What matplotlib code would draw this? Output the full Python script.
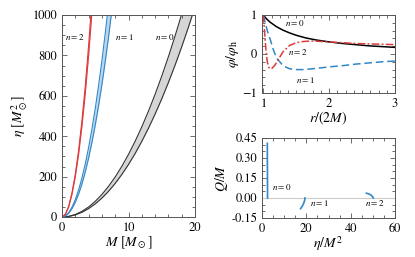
import matplotlib
matplotlib.use("Agg")
import matplotlib.pyplot as plt
from matplotlib.ticker import MultipleLocator, FormatStrFormatter

plt.rcParams['font.family'] = ['STIXGeneral', 'DejaVu Serif']
plt.rcParams['mathtext.fontset'] = 'stix'

# --- left panel: eta vs M bands ---
M0 = list(range(21))
eta0_hi = [0, 3.1, 12.4, 27.9, 49.6, 77.5, 111.6, 151.9, 198.4, 251.1, 310, 375.1, 446.4,
           523.9, 607.6, 697.5, 793.6, 895.9, 1004.4, 1119.1, 1240]
eta0_lo = [0, 2.6, 10.4, 23.4, 41.6, 65, 93.6, 127.4, 166.4, 210.6, 260, 314.6, 374.4,
           439.4, 509.6, 585, 665.6, 751.4, 842.4, 938.6, 1040]

M1 = [0, 0.5, 1, 1.5, 2, 2.5, 3, 3.5, 4, 4.5, 5, 5.5, 6, 6.5, 7, 7.5]
eta1_hi = [0, 5.4, 21.5, 48.4, 86, 134.4, 193.5, 263.4, 344, 435.4, 537.5, 650.4, 774, 908.4, 1053.5, 1209.4]
eta1_lo = [0, 4.6, 18.2, 41, 72.8, 113.8, 163.8, 223, 291.2, 368.6, 455, 550.6, 655.2, 769, 891.8, 1023.8]

M2 = [0, 0.5, 1, 1.5, 2, 2.5, 3, 3.5, 4, 4.5]
eta2_hi = [0, 13.25, 53, 119.25, 212, 331.25, 477, 649.25, 848, 1073.25]
eta2_lo = [0, 12.5, 50, 112.5, 200, 312.5, 450, 612.5, 800, 1012.5]

# --- top right: scalar profiles ---
r0 = [1.0, 1.05, 1.1, 1.2, 1.3, 1.4, 1.5, 1.65, 1.8, 2.0, 2.2, 2.4, 2.6, 2.8, 3.0]
phi0 = [1.0, 0.9, 0.82, 0.7, 0.61, 0.54, 0.48, 0.41, 0.36, 0.31, 0.27, 0.24, 0.21, 0.19, 0.17]
r1 = [1.0, 1.03, 1.06, 1.1, 1.15, 1.2, 1.3, 1.4, 1.5, 1.6, 1.8, 2.0, 2.2, 2.4, 2.6, 2.8, 3.0]
phi1 = [1.0, 0.8, 0.6, 0.4, 0.12, -0.1, -0.3, -0.38, -0.4, -0.4, -0.37, -0.33, -0.3, -0.26, -0.23, -0.2, -0.18]
r2 = [1.0, 1.02, 1.04, 1.06, 1.08, 1.1, 1.13, 1.17, 1.2, 1.25, 1.3, 1.4, 1.5, 1.6, 1.7,
      1.8, 2.0, 2.2, 2.4, 2.6, 2.8, 3.0]
phi2 = [1.0, 0.55, 0.1, -0.2, -0.33, -0.38, -0.37, -0.3, -0.22, -0.08, 0.06, 0.22, 0.29, 0.32, 0.33,
        0.33, 0.31, 0.29, 0.27, 0.26, 0.25, 0.24]

# --- bottom right: Q/M vs eta/M^2 ---
q_eta0 = [2.5, 2.48, 2.45, 2.42, 2.4]
q0 = [0, 0.1, 0.2, 0.3, 0.41]
q_eta1 = [19.4, 19.2, 18.8, 18.2, 17.4]
q1 = [0, -0.02, -0.04, -0.06, -0.08]
q_eta2 = [50.2, 49.8, 49.2, 48.3, 47.1]
q2 = [0, 0.012, 0.022, 0.03, 0.036]

BLUE = '#3287c6'
RED = '#dd3a3a'
FS = 9
NFS = 6.5

fig = plt.figure(figsize=(4.15, 2.57), dpi=100)


def style(ax):
    ax.tick_params(which='both', direction='in', top=True, right=True, labelsize=FS,
                   color='#555555', width=0.6)
    ax.tick_params(which='major', length=3.5)
    ax.tick_params(which='minor', length=2)
    for s in ax.spines.values():
        s.set_color('#555555')
        s.set_linewidth(0.7)


ax = fig.add_axes([62 / 415, 1 - 217 / 257, 133 / 415, 202 / 257])
ax.fill_between(M0, eta0_lo, eta0_hi, color='#d6d6d6', lw=0)
ax.plot(M0, eta0_hi, color='#333333', lw=0.8)
ax.plot(M0, eta0_lo, color='#333333', lw=0.8)
ax.fill_between(M1, eta1_lo, eta1_hi, color='#b9d7ee', lw=0)
ax.plot(M1, eta1_hi, color=BLUE, lw=0.8)
ax.plot(M1, eta1_lo, color=BLUE, lw=0.8)
ax.fill_between(M2, eta2_lo, eta2_hi, color='#f2b5b5', lw=0)
ax.plot(M2, eta2_hi, color=RED, lw=0.8)
ax.plot(M2, eta2_lo, color=RED, lw=0.8)
ax.set_xlim(0, 20)
ax.set_ylim(0, 1000)
ax.xaxis.set_major_locator(MultipleLocator(10))
ax.xaxis.set_minor_locator(MultipleLocator(2))
ax.yaxis.set_major_locator(MultipleLocator(200))
ax.yaxis.set_minor_locator(MultipleLocator(50))
ax.text(0.4, 890, '$n=2$', fontsize=NFS, va='center')
ax.text(8.0, 890, '$n=1$', fontsize=NFS, va='center')
ax.text(14.0, 890, '$n=0$', fontsize=NFS, va='center')
ax.set_xlabel(r'$M\ [M_\odot]$', fontsize=FS + 1, labelpad=1)
ax.set_ylabel(r'$\eta\ [M_\odot^2]$', fontsize=FS + 1, labelpad=2)
style(ax)

ax = fig.add_axes([262 / 415, 1 - 93 / 257, 133 / 415, 78 / 257])
ax.plot(r0, phi0, color='black', lw=1.1)
ax.plot(r1, phi1, color=BLUE, lw=1.1, ls=(0, (5, 2.5)))
ax.plot(r2, phi2, color=RED, lw=1.1, ls=(0, (5, 1.5, 1.2, 1.5)))
ax.set_xlim(0.98, 3)
ax.set_ylim(-1, 1)
ax.xaxis.set_major_locator(MultipleLocator(1))
ax.xaxis.set_minor_locator(MultipleLocator(0.125))
ax.yaxis.set_major_locator(MultipleLocator(1))
ax.yaxis.set_minor_locator(MultipleLocator(0.2))
ax.text(1.33, 0.8, '$n=0$', fontsize=NFS, va='center')
ax.text(1.37, 0.05, '$n=2$', fontsize=NFS, va='center')
ax.text(1.5, -0.67, '$n=1$', fontsize=NFS, va='center')
ax.set_xlabel(r'$r/(2M)$', fontsize=FS + 1, labelpad=0)
ax.set_ylabel(r'$\varphi/\varphi_{\rm h}$', fontsize=FS + 1, labelpad=1)
style(ax)

ax = fig.add_axes([262 / 415, 1 - 218 / 257, 133 / 415, 80 / 257])
ax.axhline(0, color='#cccccc', lw=0.8)
ax.plot(q_eta0, q0, color=BLUE, lw=1.2)
ax.plot(q_eta1, q1, color=BLUE, lw=1.2)
ax.plot(q_eta2, q2, color=BLUE, lw=1.2)
ax.set_xlim(0, 60)
ax.set_ylim(-0.15, 0.45)
ax.xaxis.set_major_locator(MultipleLocator(20))
ax.xaxis.set_minor_locator(MultipleLocator(5))
ax.yaxis.set_major_locator(MultipleLocator(0.15))
ax.yaxis.set_minor_locator(MultipleLocator(0.05))
ax.yaxis.set_major_formatter(FormatStrFormatter('%.2f'))
ax.text(4.6, 0.08, '$n=0$', fontsize=NFS, va='center')
ax.text(21.8, -0.04, '$n=1$', fontsize=NFS, va='center')
ax.text(46.6, -0.04, '$n=2$', fontsize=NFS, va='center')
ax.set_xlabel(r'$\eta/M^2$', fontsize=FS + 1, labelpad=0)
ax.set_ylabel(r'$Q/M$', fontsize=FS + 1, labelpad=1)
style(ax)

fig.savefig('out.png', dpi=100)
